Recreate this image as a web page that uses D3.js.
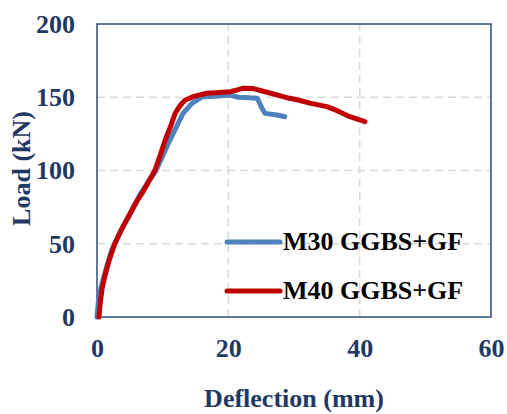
<!DOCTYPE html>
<html lang="en">
  <head>
    <meta charset="utf-8" />
    <title>Load vs deflection</title>
    <script src="https://cdn.jsdelivr.net/npm/d3@7"></script>
    <style>
      body { margin: 0; background: white; }
      svg text { font-family: "Liberation Serif", "Times New Roman", "DejaVu Serif", serif; font-weight: bold; font-size: 26px; }
    </style>
  </head>
  <body>
    <script>
// values (deflection in mm, load in kN)
var m30X = [0, 0.2, 0.6, 1.2, 2.2, 3.5, 5.0, 6.6, 7.8, 9.0, 11.1, 13.1, 14.5, 16.1, 18.0, 20.3, 21.5, 22.5, 24.4, 25.1, 25.6, 27.4, 28.6];
var m30Y = [0, 10, 20, 30, 45, 58, 70, 84, 92, 100, 120.8, 139, 146, 150.4, 150.7, 151.5, 150, 149.8, 149.3, 142.7, 139, 137.9, 136.7];
var m40X = [0.3, 0.5, 0.8, 1.2, 1.8, 2.7, 4.0, 5.2, 6.2, 6.8, 7.8, 8.8, 9.6, 10.4, 11.2, 11.9, 12.6, 13.4, 14.6, 16.7, 18.5, 20.3, 21.2, 22.2, 23.8, 25.9, 28.9, 30.5, 32.4, 35.0, 36.5, 38.5, 40.8];
var m40Y = [0, 10, 20, 28, 38, 50, 62, 72, 80, 84, 92, 100, 110, 121, 130, 139, 144, 148, 150.4, 152.7, 153.3, 153.8, 154.8, 156.1, 155.9, 153.4, 149.7, 148.3, 146, 143.6, 141, 136.7, 133.3];
var seriesNames = ["M30 GGBS+GF", "M40 GGBS+GF"];
var seriesColors = ["#4F81BD", "#C00000"];
var xTicks = [0, 20, 40, 60];
var yTicks = [0, 50, 100, 150, 200];

var w = 507, h = 414;
var pad = { left: 97, right: 16, top: 24, bottom: 97 };
var navy = "#1F3864";

var svg = d3.select("body").append("svg")
            .attr("width", w)
            .attr("height", h);

var xScale = d3.scaleLinear().domain([0, 60]).range([pad.left, w - pad.right]);
var yScale = d3.scaleLinear().domain([0, 200]).range([h - pad.bottom, pad.top]);

// grid
var grid = svg.append("g").attr("id", "grid");
grid.selectAll("line.h")
    .data(yTicks.slice(1, -1))
    .enter().append("line")
    .attr("class", "h")
    .attr("x1", xScale(0)).attr("x2", xScale(60))
    .attr("y1", function(d) { return yScale(d); })
    .attr("y2", function(d) { return yScale(d); });
grid.selectAll("line.v")
    .data(xTicks.slice(1, -1))
    .enter().append("line")
    .attr("class", "v")
    .attr("y1", yScale(0)).attr("y2", yScale(200))
    .attr("x1", function(d) { return xScale(d); })
    .attr("x2", function(d) { return xScale(d); });
grid.selectAll("line")
    .attr("stroke", "#D9D9D9")
    .attr("stroke-width", 1.5)
    .attr("stroke-dasharray", "8,5");

// frame
svg.append("rect")
   .attr("x", xScale(0)).attr("y", yScale(200))
   .attr("width", xScale(60) - xScale(0))
   .attr("height", yScale(0) - yScale(200))
   .attr("fill", "none")
   .attr("stroke", "#2F4B7E")
   .attr("stroke-width", 1.5);

// axes (labels only, frame draws the lines)
var xAxis = svg.append("g")
   .attr("transform", "translate(0," + yScale(0) + ")")
   .call(d3.axisBottom(xScale).tickValues(xTicks).tickSize(0).tickPadding(22));
var yAxis = svg.append("g")
   .attr("transform", "translate(" + xScale(0) + ",0)")
   .call(d3.axisLeft(yScale).tickValues(yTicks).tickSize(0).tickPadding(22));
[xAxis, yAxis].forEach(function(a) {
  a.attr("font-family", null).attr("font-size", null);
  a.select(".domain").remove();
  a.selectAll("text").attr("fill", navy);
});

// curves
var series = [
  { x: m30X, y: m30Y },
  { x: m40X, y: m40Y }
];
var line = d3.line()
             .x(function(d) { return xScale(d[0]); })
             .y(function(d) { return yScale(d[1]); });
svg.append("g")
   .selectAll("path")
   .data(series)
   .enter().append("path")
   .attr("d", function(s) { return line(d3.zip(s.x, s.y)); })
   .attr("fill", "none")
   .attr("stroke", function(s, i) { return seriesColors[i]; })
   .attr("stroke-width", 5)
   .attr("stroke-linejoin", "round")
   .attr("stroke-linecap", "round");

// axis titles
svg.append("text")
   .text("Deflection (mm)")
   .attr("x", (xScale(0) + xScale(60)) / 2)
   .attr("y", 407)
   .attr("text-anchor", "middle")
   .attr("fill", navy);
svg.append("text")
   .text("Load (kN)")
   .attr("transform", "translate(30," + (yScale(100) - 2) + ") rotate(-90)")
   .attr("text-anchor", "middle")
   .attr("fill", navy);

// legend
var legY = [242, 291];
var legend = svg.append("g")
   .selectAll("g")
   .data(seriesNames)
   .enter().append("g")
   .attr("transform", function(d, i) { return "translate(227," + legY[i] + ")"; });
legend.append("line")
      .attr("x1", 0).attr("x2", 53)
      .attr("stroke", function(d, i) { return seriesColors[i]; })
      .attr("stroke-width", 5)
      .attr("stroke-linecap", "round");
legend.append("text")
      .text(function(d) { return d; })
      .attr("x", 56)
      .attr("y", 8)
      .attr("fill", "black");
    </script>
  </body>
</html>
